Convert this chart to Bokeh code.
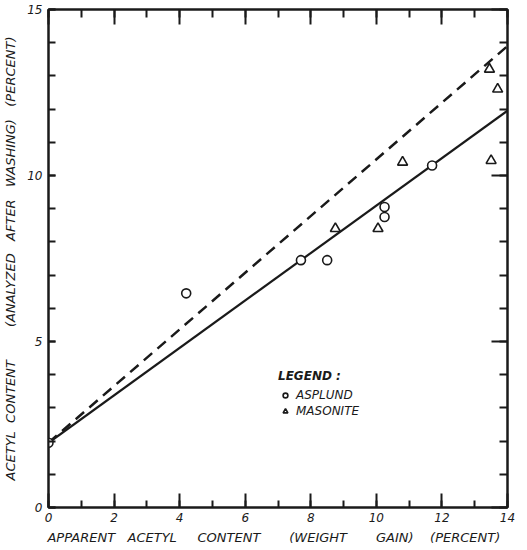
from bokeh.plotting import figure
from bokeh.models import (LinearAxis, SingleIntervalTicker, Range1d, Legend, LegendItem,
                          CustomJSTickFormatter)
from bokeh.embed import file_html
from bokeh.resources import INLINE

# ---- data ----
asplund_x = [0.0, 4.2, 7.7, 8.5, 10.25, 10.25, 11.7]
asplund_y = [1.95, 6.45, 7.45, 7.45, 9.05, 8.75, 10.3]
masonite_x = [8.75, 10.05, 10.8, 13.5, 13.45, 13.7]
masonite_y = [8.4, 8.4, 10.4, 10.45, 13.2, 12.6]
fit_x = [0.0, 14.0]
fit_y = [1.95, 11.95]
theory_x = [0.0, 14.0]
theory_y = [1.95, 13.9]

S = "\u00a0"
x_title = ("APPARENT" + S * 3 + "ACETYL" + S * 5 + "CONTENT" + S * 7 + "(WEIGHT" + S * 7
           + "GAIN)" + S * 4 + "(PERCENT)" + S * 2)
y_title = ("ACETYL" + S * 2 + "CONTENT" + S * 8 + "(ANALYZED" + S * 3 + "AFTER" + S * 3
           + "WASHING)" + S * 3 + "(PERCENT)")

INK = "#1a1a1a"
FONT = "DejaVu Sans"

p = figure(width=515, height=548, x_range=Range1d(0, 14), y_range=Range1d(0, 15),
           output_backend="svg", toolbar_location=None,
           min_border_left=38, min_border_right=8, min_border_top=9, min_border_bottom=41)
p.grid.visible = False
p.outline_line_color = INK
p.outline_line_width = 2
p.background_fill_color = "white"
p.border_fill_color = "white"

def style(ax, major_in, minor_in):
    ax.axis_line_color = INK
    ax.axis_line_width = 2
    ax.major_tick_line_color = INK
    ax.minor_tick_line_color = INK
    ax.major_tick_line_width = 2
    ax.minor_tick_line_width = 2
    ax.major_tick_in = major_in
    ax.major_tick_out = 0
    ax.minor_tick_in = minor_in
    ax.minor_tick_out = 0
    ax.major_label_text_font = FONT
    ax.major_label_text_font_style = "italic"
    ax.major_label_text_color = INK
    ax.axis_label_text_font = FONT
    ax.axis_label_text_font_style = "italic"
    ax.axis_label_text_color = INK

xb = p.xaxis[0]
xb.ticker = SingleIntervalTicker(interval=2, num_minor_ticks=2)
style(xb, 14, 7)
xb.major_label_text_font_size = "12px"
xb.major_label_standoff = 5
xb.axis_label = x_title
xb.axis_label_text_font_size = "13px"
xb.axis_label_standoff = 5

yl = p.yaxis[0]
yl.ticker = SingleIntervalTicker(interval=5, num_minor_ticks=5)
style(yl, 7, 7)
yl.major_label_text_font_size = "12px"
yl.major_label_standoff = 6
yl.axis_label = y_title
yl.axis_label_text_font_size = "13px"
yl.axis_label_standoff = 6

blank = CustomJSTickFormatter(code="return ''")

top = LinearAxis(ticker=SingleIntervalTicker(interval=2, num_minor_ticks=2), formatter=blank)
style(top, 15, 8)
top.major_label_standoff = 0
p.add_layout(top, "above")

right = LinearAxis(ticker=SingleIntervalTicker(interval=5, num_minor_ticks=5), formatter=blank)
style(right, 16, 8)
right.major_label_standoff = 0
p.add_layout(right, "right")

p.line(theory_x, theory_y, line_color=INK, line_width=2.5, line_dash="11 7")
p.line(fit_x, fit_y, line_color=INK, line_width=2.2)

r_a = p.scatter(asplund_x, asplund_y, marker="circle", size=9, fill_color="white",
                line_color=INK, line_width=1.6)
r_m = p.scatter(masonite_x, masonite_y, marker="triangle", size=10, fill_color="white",
                line_color=INK, line_width=1.6)

legend = Legend(items=[LegendItem(label="ASPLUND", renderers=[r_a]),
                       LegendItem(label="MASONITE", renderers=[r_m])],
                location=(230, 89), title="LEGEND :")
legend.border_line_color = None
legend.background_fill_alpha = 0
legend.title_text_font = FONT
legend.title_text_font_style = "bold italic"
legend.title_text_font_size = "12px"
legend.title_text_color = INK
legend.label_text_font = FONT
legend.label_text_font_style = "italic"
legend.label_text_font_size = "12px"
legend.label_text_color = INK
legend.glyph_width = 14
legend.glyph_height = 12
legend.label_standoff = 4
legend.spacing = 2
legend.padding = 2
legend.label_height = 12
p.add_layout(legend, "center")

open("out.html", "w").write(file_html(p, INLINE))
